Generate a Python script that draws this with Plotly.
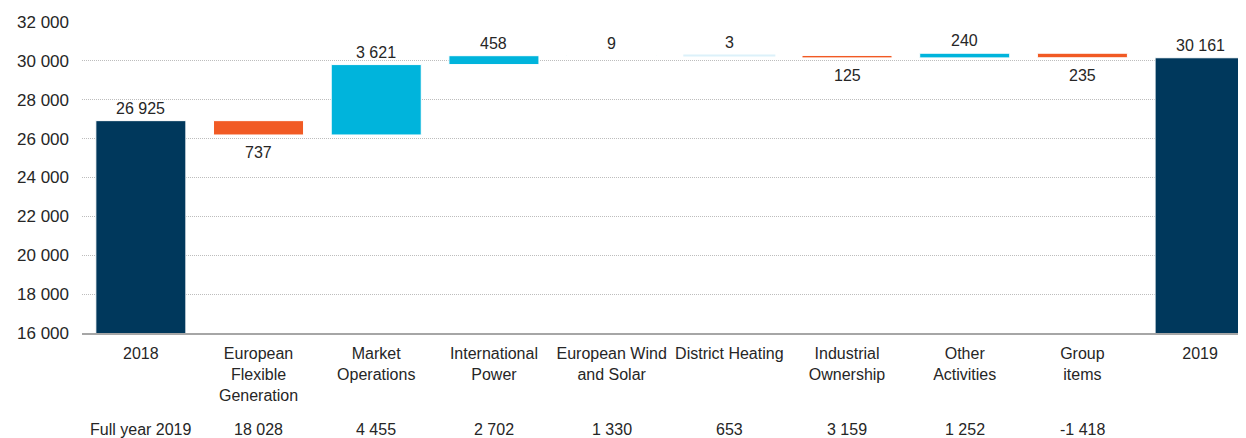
import plotly.graph_objects as go

categories = ["2018", "European<br>Flexible<br>Generation", "Market<br>Operations",
              "International<br>Power", "European Wind<br>and Solar", "District Heating",
              "Industrial<br>Ownership", "Other<br>Activities", "Group<br>items", "2019"]
start_value = 26925
deltas = [-737, 3621, 458, 9, 3, -125, 240, -235]
end_value = 30161
full_year_label = "Full year 2019"
full_year_values = [18028, 4455, 2702, 1330, 653, 3159, 1252, -1418]

NAVY = "#00385C"
ORANGE = "#F15A24"
CYAN = "#00B4DC"
PALE = "#DCF1FA"
bar_colors = [NAVY, ORANGE, CYAN, CYAN, CYAN, PALE, ORANGE, CYAN, ORANGE, NAVY]
# thin light outline as in the source; the tiny District Heating bar shows only its outline
line_colors = ["white"] * 5 + [PALE] + ["white"] * 4
line_widths = [1] * 5 + [2] + [1] * 4
TEXT = "#262626"
FONT = "Liberation Sans, Arial, sans-serif"


def fmt(v):
    return f"{v:,}".replace(",", " ")


# running totals give the floating bars their base
ys, bases = [start_value], [0]
running = start_value
for d in deltas:
    ys.append(d)
    bases.append(running)
    running += d
ys.append(end_value)
bases.append(0)

fig = go.Figure(go.Bar(
    x=categories,
    y=ys,
    base=bases,
    width=0.765,
    marker_color=bar_colors,
    marker_line=dict(color=line_colors, width=line_widths),
    hoverinfo="skip",
))

# value labels: above for totals/increases, below for decreases
# (x given as category index so "2018"/"2019" are not read as numbers)
annotations = []
for i, (y, b) in enumerate(zip(ys, bases)):
    if y >= 0:
        annotations.append(dict(x=i, y=b + y, text=fmt(abs(y)), yanchor="bottom",
                                yshift=2, showarrow=False))
    else:
        annotations.append(dict(x=i, y=b + y, text=fmt(abs(y)), yanchor="top",
                                yshift=-7, showarrow=False))

# "Full year 2019" row under the category labels
annotations.append(dict(x=0, y=0, yref="paper", text=full_year_label,
                        yanchor="middle", yshift=-96, showarrow=False))
for i, v in enumerate(full_year_values, start=1):
    annotations.append(dict(x=i, y=0, yref="paper", text=fmt(v),
                            yanchor="middle", yshift=-96, showarrow=False))

# page has an 8px body margin, so the figure is 8px smaller than the window
fig.update_layout(
    width=1238, height=430,
    margin=dict(l=74, r=0, t=14, b=105),
    plot_bgcolor="white", paper_bgcolor="white",
    font=dict(family=FONT, size=16, color=TEXT),
    separators=". ",
    showlegend=False,
    annotations=annotations,
)
fig.update_xaxes(type="category", range=[-0.5, 9.39], showgrid=False,
                 showline=True, linecolor="#A6A6A6", linewidth=2,
                 tickfont=dict(size=16, color=TEXT), ticklabelstandoff=5,
                 fixedrange=True)
fig.update_yaxes(range=[16000, 32000], dtick=2000, tickformat=",d",
                 showgrid=True, gridcolor="#BDBDBD", griddash="1px,1px", gridwidth=1,
                 zeroline=False, showline=False,
                 tickfont=dict(size=17, color=TEXT), ticklabelstandoff=12,
                 fixedrange=True)

fig.write_html("out.html")
